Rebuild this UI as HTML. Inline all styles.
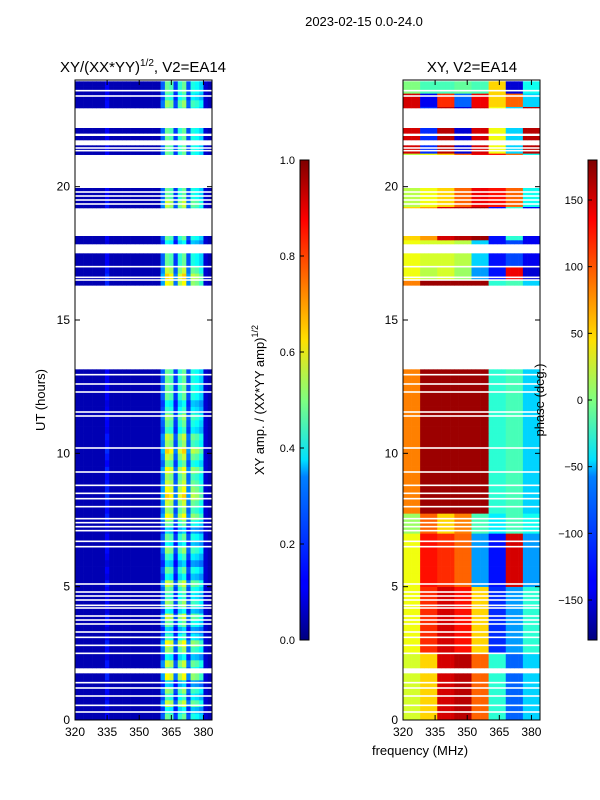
<!DOCTYPE html>
<html><head><meta charset="utf-8">
<style>
html,body{margin:0;padding:0;background:#fff;}
svg{display:block;font-family:"Liberation Sans",sans-serif;}
</style></head>
<body>
<svg id="fig" width="600" height="800" viewBox="0 0 600 800">
<defs>
<linearGradient id="jetv" x1="0" y1="1" x2="0" y2="0">
<stop offset="0" stop-color="#00007f"/><stop offset="0.11" stop-color="#0000ff"/>
<stop offset="0.125" stop-color="#0000ff"/><stop offset="0.34" stop-color="#0080ff"/>
<stop offset="0.375" stop-color="#00e0ff"/><stop offset="0.5" stop-color="#7fff7f"/>
<stop offset="0.625" stop-color="#ffe000"/><stop offset="0.66" stop-color="#ffc000"/>
<stop offset="0.875" stop-color="#ff0000"/><stop offset="1" stop-color="#7f0000"/>
</linearGradient>
</defs>
<text x="364" y="26" font-size="13" text-anchor="middle">2023-02-15 0.0-24.0</text>
<text x="143" y="72" font-size="15" text-anchor="middle">XY/(XX*YY)<tspan dy="-6" font-size="10">1/2</tspan><tspan dy="6">, V2=EA14</tspan></text>
<text x="472" y="72" font-size="15" text-anchor="middle">XY, V2=EA14</text>
<g id="left"></g>
<g id="right"></g>
<g id="axes"></g>
<text transform="translate(45,400) rotate(-90)" font-size="13" text-anchor="middle">UT (hours)</text>
<text x="420" y="755" font-size="13" text-anchor="middle">frequency (MHz)</text>
<rect x="300" y="160" width="9" height="480" fill="url(#jetv)" stroke="#000" stroke-width="1"/>
<text transform="translate(264,400) rotate(-90)" font-size="13" text-anchor="middle">XY amp. / (XX*YY amp)<tspan dy="-6" font-size="9">1/2</tspan></text>
<rect x="588" y="160" width="9" height="480" fill="url(#jetv)" stroke="#000" stroke-width="1"/>
<text transform="translate(544,400) rotate(-90)" font-size="13" text-anchor="middle">phase (deg.)</text>
<g id="cbticks"></g>
</svg>
<script>
const channelFreqs=[320,322,324,326,328,330,332,334,336,338,340,342,344,346,348,350,352,354,356,358,360,362,364,366,368,370,372,374,376,378,380,382];
const channelAmp=[0.05,0.05,0.05,0.05,0.05,0.05,0.05,0.12,0.05,0.05,0.05,0.05,0.05,0.05,0.05,0.05,0.05,0.05,0.05,0.05,0.22,0.48,0.45,0.18,0.42,0.48,0.2,0.4,0.38,0.33,0.08,0.05];
const rowFactor=[1.0,0.8,1.2,0.9,1.1,0.7,1.3,1.0,1.2,0.8,1.1,1.3,0.9,0.7,1.0,1.2,0.8,1.1,0.9,1.0,1.2,0.8,1.0,0.7,0.9,1.1,0.8,1.0,0.7,1.0,1.3,1.1,1.2,1.4,1.3,1.2,1.1,1.3,1.0,1.2,1.4,1.1,1.2,0.9,1.0,1.1,0.9,0.8,1.0,1.0,1.0,1.0,1.0,1.0,1.0,1.0,1.0,1.0,1.0,1.0,1.0,1.0,1.0,1.0,1.0,1.3,1.4,1.2,1.0,1.0,1.0,0.8,1.0,1.0,1.0,1.0,1.1,1.2,1.0,1.0,1.0,1.0,1.0,1.0,1.0,1.0,1.0,1.0,1.0,1.0,1.0,1.0,1.1,0.9,1.0,1.0];
const validStart=[0,1.95,16.3,17.85,19.2,21.2,21.75,22.0,22.95];
const validEnd=[1.75,13.15,17.5,18.15,19.95,21.55,21.9,22.2,23.95];
const flaggedLines=[0.3,0.55,0.9,1.2,1.4,2.5,2.8,3.1,3.3,3.6,3.75,3.9,4.2,4.3,4.5,4.65,4.8,5.1,6.5,6.7,7.1,7.25,7.4,7.55,8.0,8.3,8.5,8.8,9.3,10.2,11.4,11.55,12.3,12.6,12.95,16.5,16.6,17.0,19.35,19.5,19.65,19.8,21.35,21.45,23.4,23.6];
const phaseStart=[0,2.4,4.8,6.9,7.6,16.3,16.9,17.85,19.2,21.2,22.95,23.45];
const phaseValues=[
[30,60,150,160,100,-30,-100,-60],
[40,120,150,130,60,-120,-80,-30],
[40,130,120,100,-80,-130,150,-80],
[10,100,60,90,-20,-50,-20,-40],
[90,170,170,170,170,-30,-20,-60],
[40,20,30,10,-80,-130,140,-150],
[40,30,30,20,-60,-130,-110,-140],
[60,80,150,160,170,-130,-30,-140],
[20,40,60,100,140,130,100,-40],
[150,-120,160,-150,150,40,-60,160],
[150,-140,120,-100,140,60,100,-60],
[0,-20,-20,-10,-20,60,-150,-40]];
const yTicks=[0,5,10,15,20];
const xTicks=[320,335,350,365,380];
const ampTicks=[0.0,0.2,0.4,0.6,0.8,1.0];
const phaseTicks=[-150,-100,-50,0,50,100,150];

const NS='http://www.w3.org/2000/svg';
const PY0=720,PY1=80,H0=0,H1=24;
const yScale=h=>PY0-(h-H0)/(H1-H0)*(PY0-PY1);
const LX=75,RX=403,PW=137,F0=320,F1=384;
const xScale=(f,x0)=>x0+(f-F0)/(F1-F0)*PW;
function jet(v){v=Math.max(0,Math.min(1,v));
 const r=Math.max(0,Math.min(1,1.5-Math.abs(4*v-3))),g=Math.max(0,Math.min(1,1.5-Math.abs(4*v-2))),b=Math.max(0,Math.min(1,1.5-Math.abs(4*v-1)));
 return `rgb(${Math.round(r*255)},${Math.round(g*255)},${Math.round(b*255)})`;}
function mk(tag,attrs,parent){const e=document.createElementNS(NS,tag);for(const k in attrs)e.setAttribute(k,attrs[k]);parent.appendChild(e);return e;}
function phaseAt(h,f){let idx=0;for(let i=0;i<phaseStart.length;i++)if(h>=phaseStart[i])idx=i;const seg=Math.min(7,Math.floor((f-F0)/8));return phaseValues[idx][seg];}
const L=document.getElementById('left'),R=document.getElementById('right');
const dt=0.25;
for(let r=0;r<rowFactor.length;r++){
 const h=r*dt;
 for(let i=0;i<validStart.length;i++){
  const a=Math.max(h,validStart[i]),b=Math.min(h+dt,validEnd[i]);
  if(b<=a)continue;
  const yT=yScale(b),yB=yScale(a);
  for(let c=0;c<channelFreqs.length;c++){
   const f=channelFreqs[c];
   const x0=xScale(f,LX),x1=xScale(f+2,LX);
   let v=channelAmp[c];if(v>0.1)v=v*rowFactor[r];
   const e1=mk('rect',{x:x0,y:yT,width:x1-x0+0.3,height:yB-yT+0.3,fill:jet(v)},L);
   
   
   const p=phaseAt(h,f);
   const x2=xScale(f,RX),x3=xScale(f+2,RX);
   const e2=mk('rect',{x:x2,y:yT,width:x3-x2+0.3,height:yB-yT+0.3,fill:jet((p+180)/360)},R);
   
   
  }
 }
}
const A=document.getElementById('axes');
for(const fl of flaggedLines){
 for(const x0 of [LX,RX]){
  const e=mk('rect',{x:x0,y:yScale(fl)-0.8,width:PW,height:1.6,fill:'#fff'},A);
  
  
 }
}
for(const x0 of [LX,RX]){
 const fr=mk('rect',{x:x0,y:PY1,width:PW,height:PY0-PY1,fill:'none',stroke:'#000','stroke-width':1},A);
 
 
 for(const t of yTicks){
  const y=yScale(t);
  mk('line',{x1:x0,y1:y,x2:x0+5,y2:y,stroke:'#000'},A);
  mk('line',{x1:x0+PW,y1:y,x2:x0+PW-5,y2:y,stroke:'#000'},A);
  const tx=mk('text',{x:x0-5,y:y+4,'font-size':12,'text-anchor':'end'},A);tx.textContent=t;
  
  
 }
 for(const t of xTicks){
  const x=xScale(t,x0);
  mk('line',{x1:x,y1:PY0,x2:x,y2:PY0-5,stroke:'#000'},A);
  mk('line',{x1:x,y1:PY1,x2:x,y2:PY1+5,stroke:'#000'},A);
  const tx=mk('text',{x:x,y:PY0+16,'font-size':12,'text-anchor':'middle'},A);tx.textContent=t;
  
  
 }
}
const C=document.getElementById('cbticks');
for(const t of ampTicks){
 const y=640-t*480;
 mk('line',{x1:300,y1:y,x2:304,y2:y,stroke:'#000'},C);
 const tx=mk('text',{x:295,y:y+4,'font-size':11,'text-anchor':'end'},C);tx.textContent=t.toFixed(1);
 
 
}
for(const t of phaseTicks){
 const y=640-(t+180)/360*480;
 mk('line',{x1:588,y1:y,x2:592,y2:y,stroke:'#000'},C);
 const tx=mk('text',{x:583,y:y+4,'font-size':11,'text-anchor':'end'},C);tx.textContent=t<0?'\u2212'+(-t):t;
 
 
}
</script>
</body></html>
